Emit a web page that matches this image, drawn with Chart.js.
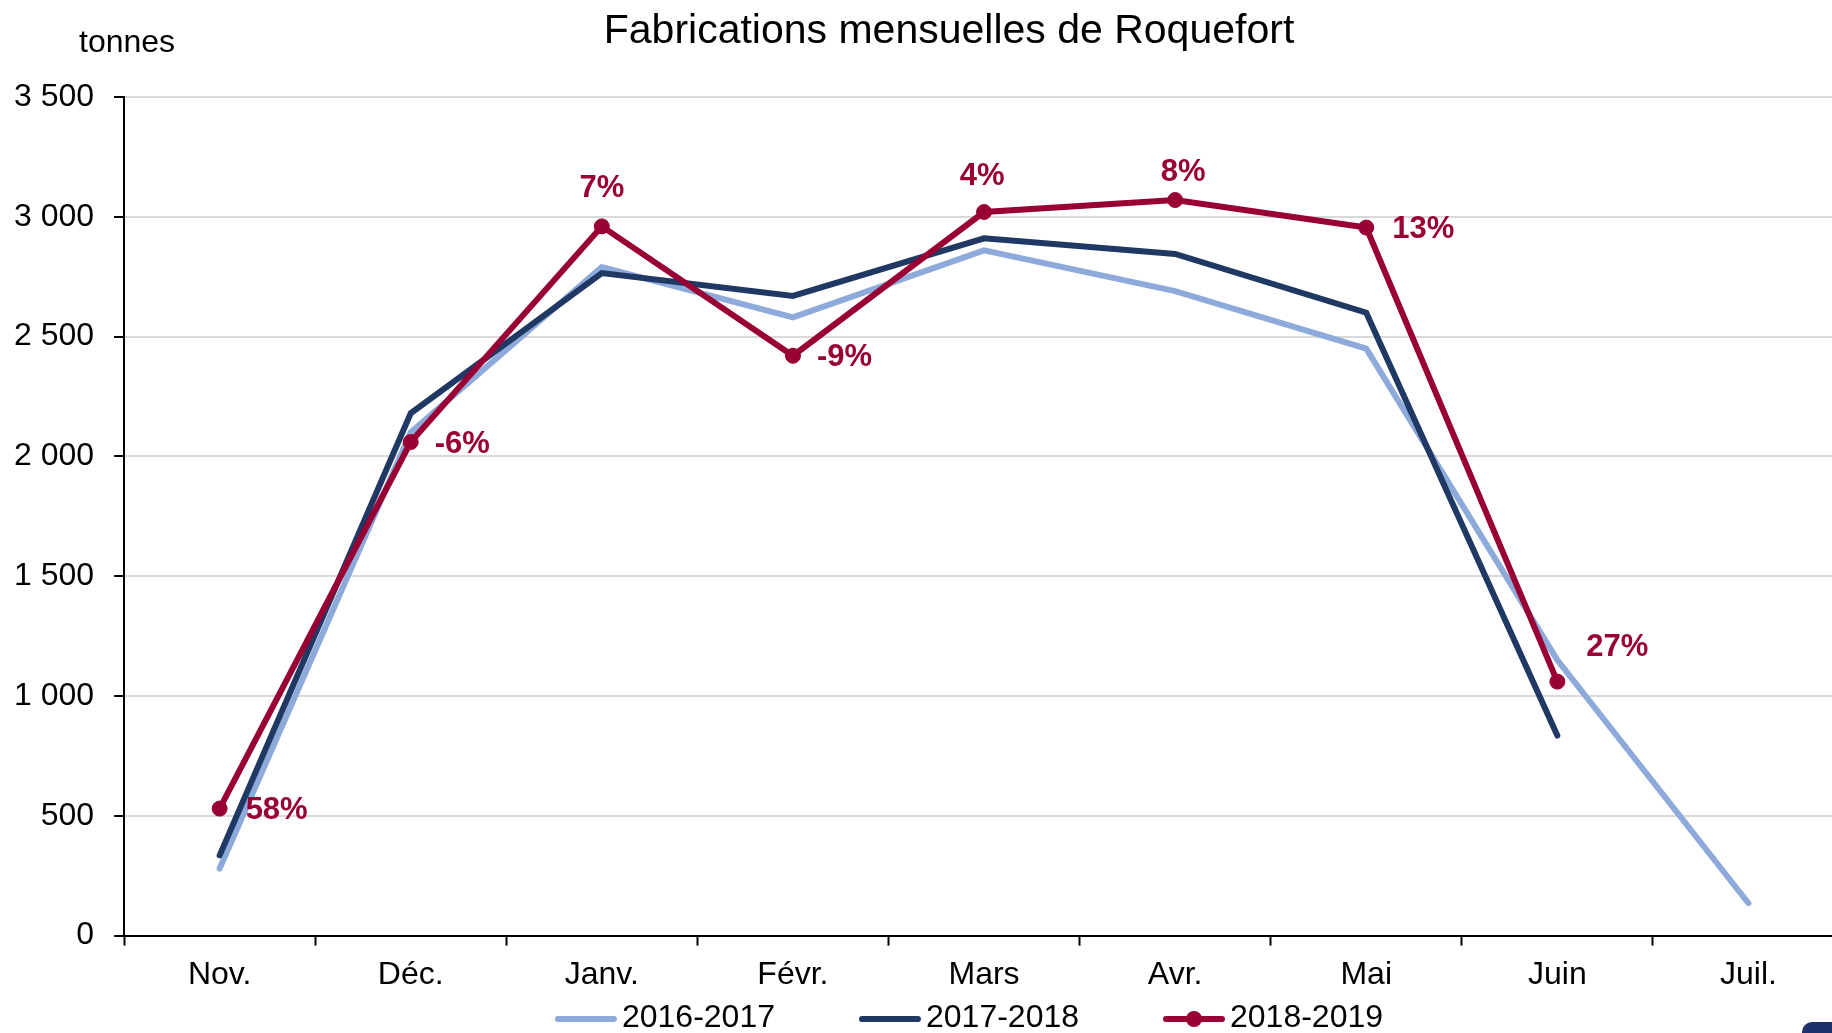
<!DOCTYPE html>
<html>
<head>
<meta charset="utf-8">
<script src="https://cdn.jsdelivr.net/npm/chart.js@4"></script>
<style>
  html, body { margin: 0; padding: 0; background: #fff; overflow: hidden; }
  #wrap { position: relative; width: 1900px; height: 1033px; }
  #coin { position: absolute; left: 1802px; top: 1022px; width: 40px; height: 22px; border-radius: 10px; background: #1e2f6e; }
</style>
</head>
<body>
<div id="wrap">
  <canvas id="chart" width="1900" height="1033"></canvas>
  <div id="coin"></div>
</div>
<script>
// données (tonnes)
const categories = ['Nov.', 'Déc.', 'Janv.', 'Févr.', 'Mars', 'Avr.', 'Mai', 'Juin', 'Juil.'];
const serie2016 = [280, 2100, 2790, 2580, 2860, 2690, 2450, 1150, 135];
const serie2017 = [335, 2180, 2765, 2670, 2910, 2845, 2600, 835, null];
const serie2018 = [530, 2060, 2960, 2420, 3020, 3070, 2955, 1060, null];
const evolution2018 = ['58%', '-6%', '7%', '-9%', '4%', '8%', '13%', '27%', null];
const seriesNames = ['2016-2017', '2017-2018', '2018-2019'];
const yMax = 3500;
const yStep = 500;

const FONT = '"Liberation Sans", Arial, sans-serif';
const LIGHT = '#8eaadb';
const DARK = '#1f3864';
const RED = '#990033';

// position des étiquettes de % par rapport au point
const labelOffsets = [
  { dx: 26, dy: 2, align: 'left' },
  { dx: 24, dy: 2, align: 'left' },
  { dx: 0, dy: -38, align: 'center' },
  { dx: 24, dy: 2, align: 'left' },
  { dx: -2, dy: -36, align: 'center' },
  { dx: 8, dy: -28, align: 'center' },
  { dx: 26, dy: 2, align: 'left' },
  { dx: 29, dy: -34, align: 'left' }
];

function formatMilliers(v) {
  return String(v).replace(/\B(?=(\d{3})+(?!\d))/g, ' ');
}

// étiquettes de variation sur la série 2018-2019
const pourcentPlugin = {
  id: 'pourcent',
  afterDatasetsDraw(chart) {
    const meta = chart.getDatasetMeta(2);
    const ctx = chart.ctx;
    ctx.save();
    ctx.font = 'bold 31px ' + FONT;
    ctx.fillStyle = RED;
    ctx.textBaseline = 'middle';
    meta.data.forEach((pt, i) => {
      const txt = evolution2018[i];
      if (!txt || pt.skip) return;
      const o = labelOffsets[i];
      ctx.textAlign = o.align;
      ctx.fillText(txt, pt.x + o.dx, pt.y + o.dy);
    });
    ctx.restore();
  }
};

// titre, unité et légende dessinés à la main
const habillagePlugin = {
  id: 'habillage',
  afterDraw(chart) {
    const ctx = chart.ctx;
    const area = chart.chartArea;
    ctx.save();
    ctx.fillStyle = '#000';
    ctx.textBaseline = 'alphabetic';
    ctx.textAlign = 'center';
    ctx.font = '41px ' + FONT;
    ctx.fillText('Fabrications mensuelles de Roquefort', 949, 43);

    ctx.font = '32px ' + FONT;
    ctx.fillText('tonnes', area.left + 3, 52);

    // légende
    ctx.textBaseline = 'middle';
    const lineLen = 62, gapText = 5, gapItem = 84;
    const widths = seriesNames.map(n => ctx.measureText(n).width);
    let total = 0;
    widths.forEach((w, i) => { total += lineLen + gapText + w + (i ? gapItem : 0); });
    let x = 969 - total / 2;
    const y = 1019;
    chart.data.datasets.forEach((ds, i) => {
      ctx.strokeStyle = ds.borderColor;
      ctx.lineWidth = 6;
      ctx.lineCap = 'round';
      ctx.beginPath();
      ctx.moveTo(x + 3, y);
      ctx.lineTo(x + lineLen - 3, y);
      ctx.stroke();
      if (ds.pointRadius > 0) {
        ctx.fillStyle = ds.pointBackgroundColor;
        ctx.beginPath();
        ctx.arc(x + lineLen / 2, y, 8, 0, Math.PI * 2);
        ctx.fill();
      }
      ctx.fillStyle = '#000';
      ctx.textAlign = 'left';
      ctx.fillText(ds.label, x + lineLen + gapText, y - 1);
      x += lineLen + gapText + widths[i] + gapItem;
    });
    ctx.restore();
  }
};

const ctx = document.getElementById('chart').getContext('2d');
const myChart = new Chart(ctx, {
  type: 'line',
  data: {
    labels: categories,
    datasets: [
      {
        label: seriesNames[0],
        data: serie2016,
        borderColor: LIGHT,
        backgroundColor: LIGHT,
        borderWidth: 6,
        borderCapStyle: 'round',
        pointRadius: 0,
        order: 2
      },
      {
        label: seriesNames[1],
        data: serie2017,
        borderColor: DARK,
        backgroundColor: DARK,
        borderWidth: 6,
        borderCapStyle: 'round',
        pointRadius: 0,
        order: 1
      },
      {
        label: seriesNames[2],
        data: serie2018,
        borderColor: RED,
        backgroundColor: RED,
        pointBackgroundColor: RED,
        pointBorderColor: RED,
        borderWidth: 6,
        borderCapStyle: 'round',
        pointRadius: 7.5,
        pointBorderWidth: 1,
        order: 0
      }
    ]
  },
  options: {
    responsive: false,
    animation: false,
    spanGaps: false,
    layout: {
      padding: { left: -6, right: 56, top: 97, bottom: 29 }
    },
    plugins: {
      legend: { display: false },
      tooltip: { enabled: false },
      title: { display: false }
    },
    scales: {
      x: {
        offset: true,
        grid: {
          offset: true,
          drawOnChartArea: false,
          drawTicks: true,
          tickLength: 10,
          tickColor: '#000',
          tickWidth: 2
        },
        border: { display: true, color: '#000', width: 2 },
        ticks: {
          color: '#000',
          font: { family: FONT, size: 32 },
          padding: 10,
          maxRotation: 0,
          autoSkip: false
        }
      },
      y: {
        min: 0,
        max: yMax,
        grid: {
          color: '#d9d9d9',
          lineWidth: 2,
          tickLength: 10,
          tickColor: '#000',
          tickWidth: 2
        },
        border: { display: true, color: '#000', width: 2 },
        ticks: {
          stepSize: yStep,
          color: '#000',
          font: { family: FONT, size: 32 },
          padding: 20,
          callback: v => formatMilliers(v)
        }
      }
    }
  },
  plugins: [pourcentPlugin, habillagePlugin]
});
</script>
</body>
</html>
